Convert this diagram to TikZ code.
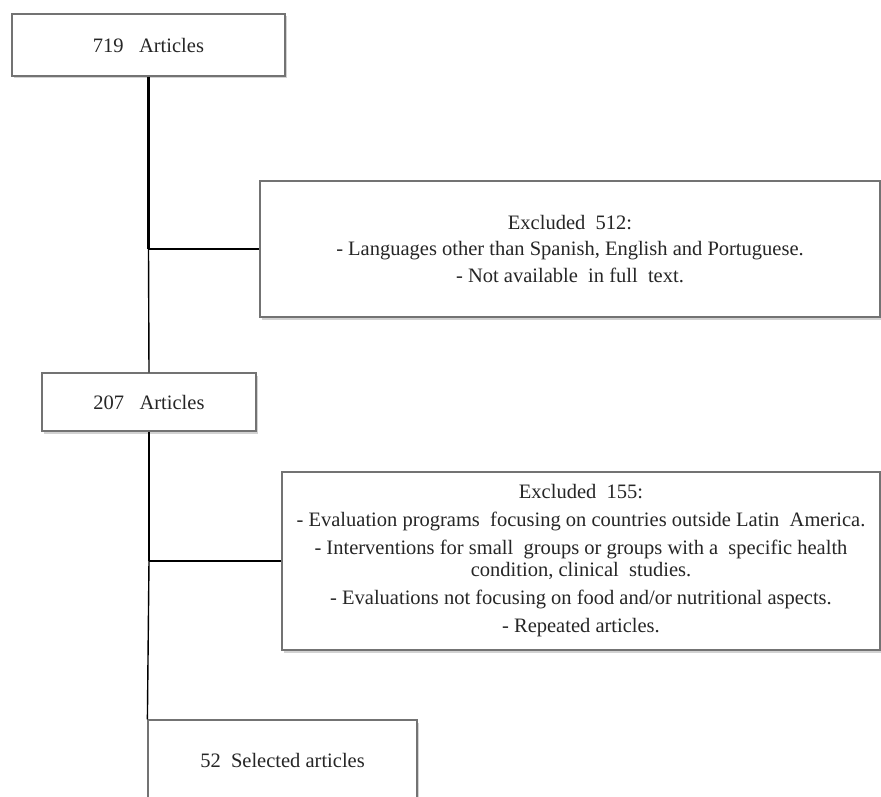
\documentclass[tikz,border=0pt]{standalone}
\usepackage{fontspec}
\setmainfont{Liberation Serif}
\usetikzlibrary{positioning, shadows}

\tikzset{
  flowbox/.style={draw=black!55, line width=1.2pt, fill=white, inner sep=0pt, align=center, text=black!85,
    drop shadow={shadow xshift=1.5pt, shadow yshift=-2.5pt, opacity=0.35}},
  trunk/.style={line width=2.6pt},
  branch/.style={line width=1.4pt},
}

\begin{document}
\begin{tikzpicture}[x=1pt, y=-1pt, font=\fontsize{20.5}{22}\selectfont]
\useasboundingbox[fill=white] (0,0) rectangle (881,797);
\clip (0,0) rectangle (881,797);
% boxes
\node[flowbox, minimum width=273pt, minimum height=62pt] (a719) at (148.5,45) {719\ \ \ Articles};
\node[flowbox, minimum width=620pt, minimum height=136pt, font=\fontsize{20.5}{26.5}\selectfont] (ex512) at (570,249)
  {Excluded\ \ 512:\\ - Languages other than Spanish, English and Portuguese.\\ - Not available\ \ in full\ \ text.};
\node[flowbox, minimum width=214pt, minimum height=58pt] (a207) at (149,402) {207\ \ \ Articles};
\node[flowbox, minimum width=598pt, minimum height=178pt] (ex155) at (581,561)
  {Excluded\ \ 155:\\[6pt] - Evaluation programs\ \ focusing on countries outside Latin\ \ America.\\[6pt]
   - Interventions for small\ \ groups or groups with a\ \ specific health\\ condition, clinical\ \ studies.\\[6pt]
   - Evaluations not focusing on food and/or nutritional aspects.\\[6pt] - Repeated articles.};
\node[flowbox, minimum width=269pt, minimum height=80pt] (sel52) at (282.5,760) {52\ \ Selected articles};
% connectors
\coordinate (j1) at (a719.south |- ex512.west);
\coordinate (j2) at (a207.south |- ex155.west);
\draw[trunk] (a719.south) -- (j1);
\draw[branch] (j1) -- (ex512.west);
\draw[branch] (j1) -- (a207.north);
\draw[trunk] (a207.south) -- (j2);
\draw[branch] (j2) -- (ex155.west);
\draw[branch] (j2) -- (sel52.north west);
\end{tikzpicture}
\end{document}
